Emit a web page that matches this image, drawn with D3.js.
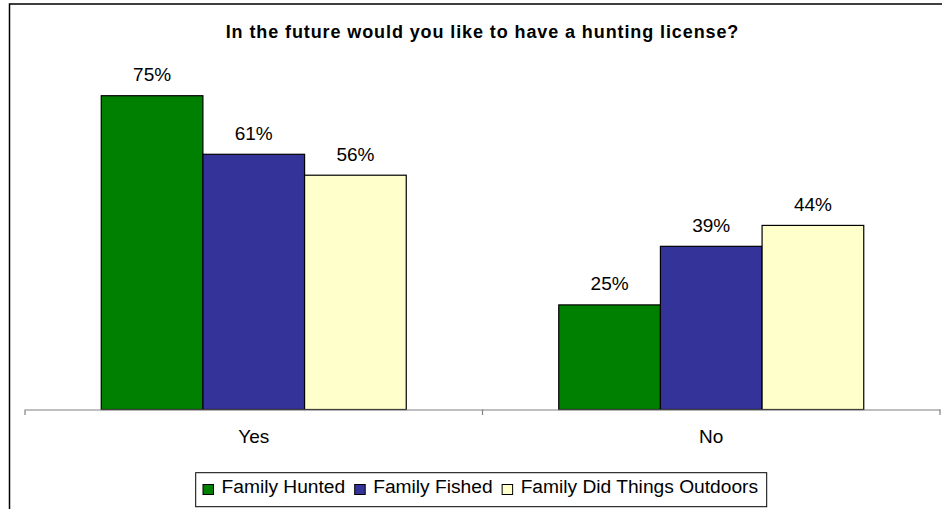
<!DOCTYPE html>
<html>
<head>
<meta charset="utf-8">
<script src="https://cdn.jsdelivr.net/npm/d3@7"></script>
<style>
  html, body { margin: 0; padding: 0; background: #fff; }
  svg { display: block; font-family: "Liberation Sans", Arial, sans-serif; }
</style>
</head>
<body>
<svg id="chart" width="942" height="509"></svg>
<script>
// Survey answers by family background
const categories = ["Yes", "No"];
const seriesNames = ["Family Hunted", "Family Fished", "Family Did Things Outdoors"];
const familyHunted = [75, 25];
const familyFished = [61, 39];
const familyOutdoors = [56, 44];
const seriesColors = ["#008000", "#333399", "#FFFFCC"];
const titleText = "In the future would you like to have a hunting license?";

const seriesValues = [familyHunted, familyFished, familyOutdoors];
const rows = categories.map((c, i) => ({
  category: c,
  values: seriesNames.map((s, j) => ({ series: s, value: seriesValues[j][i], color: seriesColors[j] }))
}));

const svg = d3.select("#chart");
const W = 942, H = 509;

// outer frame (extends past the right and bottom edges)
svg.append("rect")
  .attr("x", 9.5).attr("y", 4)
  .attr("width", W + 10).attr("height", H + 10)
  .attr("fill", "#fff").attr("stroke", "#000").attr("stroke-width", 1.5);

const plot = { left: 25, right: 940, top: 74.8, bottom: 409.5 };

const x0 = d3.scaleBand().domain(categories).range([plot.left, plot.right]).padding(0);
const bw = x0.bandwidth();
const gap = bw / 6;
const x1 = d3.scaleBand().domain(seriesNames).range([gap, bw - gap]).padding(0);
const y = d3.scaleLinear().domain([0, 80]).range([plot.bottom, plot.top]);

// title
svg.append("text")
  .attr("x", (plot.left + plot.right) / 2)
  .attr("y", 37.7)
  .attr("text-anchor", "middle")
  .attr("font-weight", "bold")
  .attr("font-size", "18px")
  .attr("letter-spacing", "0.9px")
  .attr("fill", "#000")
  .text(titleText);

// bars
const groups = svg.append("g").selectAll("g")
  .data(rows).join("g")
  .attr("transform", d => `translate(${x0(d.category)},0)`);

groups.selectAll("rect")
  .data(d => d.values).join("rect")
  .attr("x", d => x1(d.series))
  .attr("y", d => y(d.value))
  .attr("width", x1.bandwidth())
  .attr("height", d => y(0) - y(d.value))
  .attr("fill", d => d.color)
  .attr("stroke", "#000")
  .attr("stroke-width", 1.2);

groups.selectAll("text")
  .data(d => d.values).join("text")
  .attr("x", d => x1(d.series) + x1.bandwidth() / 2)
  .attr("y", d => y(d.value) - 14.7)
  .attr("text-anchor", "middle")
  .attr("font-size", "19px")
  .attr("fill", "#000")
  .text(d => d.value + "%");

// category axis
const axis = svg.append("g")
  .attr("transform", `translate(0,${plot.bottom})`)
  .call(d3.axisBottom(x0).tickSize(0).tickPadding(20).tickSizeOuter(0));
axis.select(".domain").attr("stroke", "#808080").attr("stroke-width", 1.2);
axis.selectAll(".tick text")
  .attr("font-size", "19px")
  .attr("font-family", "Liberation Sans, Arial, sans-serif")
  .attr("fill", "#000")
  .attr("dy", "0.71em");

// tick marks at category boundaries
const boundaries = categories.map(c => x0(c)).concat([x0.range()[1]]);
axis.selectAll(".boundary")
  .data(boundaries).join("line")
  .attr("class", "boundary")
  .attr("x1", d => d).attr("x2", d => d)
  .attr("y1", 0).attr("y2", 5.5)
  .attr("stroke", "#808080").attr("stroke-width", 1.2);

// legend
const legend = svg.append("g");
legend.append("rect")
  .attr("x", 195.7).attr("y", 472.7)
  .attr("width", 571).attr("height", 34)
  .attr("fill", "#fff").attr("stroke", "#000").attr("stroke-width", 1);

const fs = 19.2;
let lx = 203;
seriesNames.forEach((name, i) => {
  legend.append("rect")
    .attr("x", lx).attr("y", 484.5)
    .attr("width", 10.5).attr("height", 10)
    .attr("fill", seriesColors[i]).attr("stroke", "#000").attr("stroke-width", 1);
  const t = legend.append("text")
    .attr("x", lx + 18.5).attr("y", 493.3)
    .attr("font-size", fs + "px").attr("fill", "#000")
    .text(name);
  lx = lx + 18.5 + t.node().getComputedTextLength() + 9.5;
});
</script>
</body>
</html>
